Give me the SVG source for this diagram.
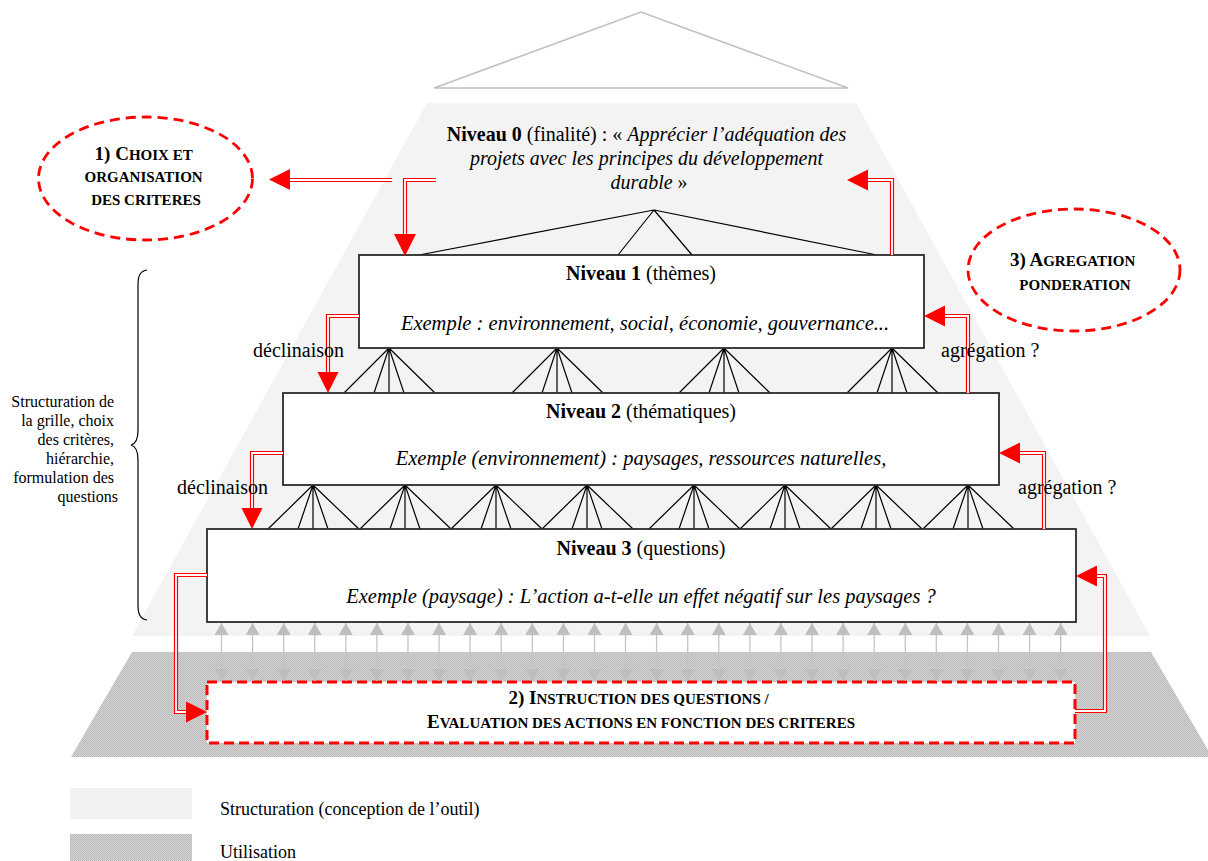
<svg xmlns="http://www.w3.org/2000/svg" width="1208" height="861" viewBox="0 0 1208 861">
<style>
.t{font-family:"Liberation Serif","Times New Roman",serif;font-size:20px;fill:#000}
.s16{font-size:16px}
.s18{font-size:18px}
.ex{font-size:20.5px}
.cap{font-weight:bold;font-size:19px}
.sm{font-size:15px}
.b{font-weight:bold}
.i{font-style:italic}
.box{fill:#fff;stroke:#2b2b2b;stroke-width:1.8}
.fan{stroke:#000;stroke-width:1.2;fill:none}
.red{stroke:#ff0000;stroke-width:4.2;fill:none}
.wht{stroke:#fff;stroke-width:1.8;fill:none}
.ah{fill:#ff0000}
.dash{fill:none;stroke:#ff0000;stroke-width:2.8;stroke-dasharray:10 6}
.gl{stroke:#c4c4c4;stroke-width:1.3;marker-start:url(#ga);marker-end:url(#ga)}
</style>
<defs>
<pattern id="dots" width="2" height="2" patternUnits="userSpaceOnUse">
<rect width="2" height="2" fill="#d4d4d4"/>
<rect width="1" height="1" fill="#bababa"/>
<rect x="1" y="1" width="1" height="1" fill="#bababa"/>
</pattern>
<marker id="ga" viewBox="0 0 12 14" refX="12" refY="7" markerWidth="12" markerHeight="14" markerUnits="userSpaceOnUse" orient="auto-start-reverse">
<path d="M0,0 L12,7 L0,14 z" fill="#bebebe"/>
</marker>
<path id="c1" d="M392,180 H289"/>
<path id="c2" d="M436,180 H405 V235"/>
<path id="c3" d="M892,255 V180 H867"/>
<path id="c4" d="M359,316 H328 V373"/>
<path id="c5" d="M283,453 H252 V509"/>
<path id="c6" d="M968,393 V316 H944"/>
<path id="c7" d="M1044,529 V453 H1019"/>
<path id="c8" d="M1075,711 H1105 V576 H1096"/>
<path id="c9" d="M207,575 H176 V712 H188"/>
</defs>

<g id="background">
<rect width="1208" height="861" fill="#fff"/>
<polygon points="434,88 641,12 848,88" fill="#fff" stroke="#c0c0c0" stroke-width="1.5"/>
<polygon points="427,103 856,103 1150,636 132,636" fill="#f3f3f3"/>
<polygon points="132,652 1151,652 1212,757 71,757" fill="url(#dots)"/>
</g>

<g id="brace">
<path d="M147,270 C140,271 138,276 138,285 V430 C138,440 135,444 131,445 C135,446 138,450 138,460 V605 C138,614 140,619 147,620" fill="none" stroke="#000" stroke-width="1.2"/>
<text class="t s16" text-anchor="end">
<tspan x="118" y="407">Structuration de</tspan>
<tspan x="118" y="426">la grille, choix</tspan>
<tspan x="118" y="445">des critères,</tspan>
<tspan x="118" y="464">hiérarchie,</tspan>
<tspan x="118" y="483">formulation des</tspan>
<tspan x="118" y="502">questions</tspan>
</text>
</g>

<g id="fans">
<path class="fan" d="M654,210 L419,255 M654,210 L618,255 M654,210 L692,255 M654,210 L877,255"/>
<path class="fan" d="M389,348 L344,393 M389,348 L374,393 M389,348 L389,393 M389,348 L404,393 M389,348 L435,393"/>
<path class="fan" d="M557,348 L512,393 M557,348 L542,393 M557,348 L557,393 M557,348 L572,393 M557,348 L603,393"/>
<path class="fan" d="M724,348 L679,393 M724,348 L709,393 M724,348 L724,393 M724,348 L739,393 M724,348 L770,393"/>
<path class="fan" d="M892,348 L847,393 M892,348 L877,393 M892,348 L892,393 M892,348 L907,393 M892,348 L938,393"/>
<path class="fan" d="M313,485 L268,529 M313,485 L298,529 M313,485 L313,529 M313,485 L328,529 M313,485 L359,529"/>
<path class="fan" d="M405,485 L360,529 M405,485 L390,529 M405,485 L405,529 M405,485 L420,529 M405,485 L451,529"/>
<path class="fan" d="M496,485 L451,529 M496,485 L481,529 M496,485 L496,529 M496,485 L511,529 M496,485 L542,529"/>
<path class="fan" d="M587,485 L542,529 M587,485 L572,529 M587,485 L587,529 M587,485 L602,529 M587,485 L633,529"/>
<path class="fan" d="M694,485 L649,529 M694,485 L679,529 M694,485 L694,529 M694,485 L709,529 M694,485 L740,529"/>
<path class="fan" d="M785,485 L740,529 M785,485 L770,529 M785,485 L785,529 M785,485 L800,529 M785,485 L831,529"/>
<path class="fan" d="M876,485 L831,529 M876,485 L861,529 M876,485 L876,529 M876,485 L891,529 M876,485 L922,529"/>
<path class="fan" d="M968,485 L923,529 M968,485 L953,529 M968,485 L968,529 M968,485 L983,529 M968,485 L1014,529"/>
</g>

<g id="niveau0">
<text class="t" text-anchor="middle">
<tspan x="649" y="141"><tspan class="b">Niveau 0</tspan> (finalité) : « <tspan class="i">Apprécier l’adéquation des</tspan></tspan>
<tspan x="649" y="165" class="i">projets avec les principes du développement</tspan>
<tspan x="649" y="189"><tspan class="i">durable</tspan> »</tspan>
</text>
</g>

<g id="niveau1">
<rect class="box" x="359" y="255" width="565" height="93"/>
<text class="t" x="641" y="280" text-anchor="middle"><tspan class="b">Niveau 1</tspan> (thèmes)</text>
<text class="t i ex" x="645" y="330" text-anchor="middle">Exemple : environnement, social, économie, gouvernance...</text>
</g>

<g id="niveau2">
<rect class="box" x="283" y="393" width="716" height="92"/>
<text class="t" x="641" y="418" text-anchor="middle"><tspan class="b">Niveau 2</tspan> (thématiques)</text>
<text class="t i ex" x="641" y="465" text-anchor="middle">Exemple (environnement) : paysages, ressources naturelles,</text>
</g>

<g id="niveau3">
<rect class="box" x="207" y="529" width="869" height="93"/>
<text class="t" x="641" y="555" text-anchor="middle"><tspan class="b">Niveau 3</tspan> (questions)</text>
<text class="t i ex" x="641" y="603" text-anchor="middle">Exemple (paysage) : L’action a-t-elle un effet négatif sur les paysages ?</text>
</g>

<g id="etape1">
<ellipse class="dash" cx="145.5" cy="178.5" rx="107" ry="61.5"/>
<text class="t cap" text-anchor="middle">
<tspan x="146" y="160">1) C<tspan class="sm">HOIX ET</tspan></tspan>
<tspan x="146" y="182" class="sm">ORGANISATION</tspan>
<tspan x="146" y="205" class="sm">DES CRITERES</tspan>
</text>
</g>

<g id="etape3">
<ellipse class="dash" cx="1074" cy="270" rx="106" ry="61"/>
<text class="t cap" text-anchor="middle">
<tspan x="1075" y="266">3) A<tspan class="sm">GREGATION</tspan></tspan>
<tspan x="1075" y="290" class="sm">PONDERATION</tspan>
</text>
</g>

<g id="etape2">
<rect x="207" y="682" width="868" height="61" fill="#fff" stroke="#ff0000" stroke-width="3" stroke-dasharray="10 5"/>
<text class="t cap" text-anchor="middle">
<tspan x="641" y="704">2) I<tspan class="sm">NSTRUCTION DES QUESTIONS /</tspan></tspan>
<tspan x="641" y="728">E<tspan class="sm">VALUATION DES ACTIONS EN FONCTION DES CRITERES</tspan></tspan>
</text>
</g>

<g id="connectors">
<g id="grey-arrows">
<line class="gl" x1="221.5" y1="623" x2="221.5" y2="681"/>
<line class="gl" x1="252.6" y1="623" x2="252.6" y2="681"/>
<line class="gl" x1="283.7" y1="623" x2="283.7" y2="681"/>
<line class="gl" x1="314.7" y1="623" x2="314.7" y2="681"/>
<line class="gl" x1="345.8" y1="623" x2="345.8" y2="681"/>
<line class="gl" x1="376.9" y1="623" x2="376.9" y2="681"/>
<line class="gl" x1="408" y1="623" x2="408" y2="681"/>
<line class="gl" x1="439.1" y1="623" x2="439.1" y2="681"/>
<line class="gl" x1="470.1" y1="623" x2="470.1" y2="681"/>
<line class="gl" x1="501.2" y1="623" x2="501.2" y2="681"/>
<line class="gl" x1="532.3" y1="623" x2="532.3" y2="681"/>
<line class="gl" x1="563.4" y1="623" x2="563.4" y2="681"/>
<line class="gl" x1="594.5" y1="623" x2="594.5" y2="681"/>
<line class="gl" x1="625.5" y1="623" x2="625.5" y2="681"/>
<line class="gl" x1="656.6" y1="623" x2="656.6" y2="681"/>
<line class="gl" x1="687.7" y1="623" x2="687.7" y2="681"/>
<line class="gl" x1="718.8" y1="623" x2="718.8" y2="681"/>
<line class="gl" x1="749.9" y1="623" x2="749.9" y2="681"/>
<line class="gl" x1="780.9" y1="623" x2="780.9" y2="681"/>
<line class="gl" x1="812" y1="623" x2="812" y2="681"/>
<line class="gl" x1="843.1" y1="623" x2="843.1" y2="681"/>
<line class="gl" x1="874.2" y1="623" x2="874.2" y2="681"/>
<line class="gl" x1="905.3" y1="623" x2="905.3" y2="681"/>
<line class="gl" x1="936.3" y1="623" x2="936.3" y2="681"/>
<line class="gl" x1="967.4" y1="623" x2="967.4" y2="681"/>
<line class="gl" x1="998.5" y1="623" x2="998.5" y2="681"/>
<line class="gl" x1="1029.6" y1="623" x2="1029.6" y2="681"/>
<line class="gl" x1="1060.7" y1="623" x2="1060.7" y2="681"/>
</g>
<g id="red-connectors">
<use href="#c1" class="red"/><use href="#c1" class="wht"/>
<use href="#c2" class="red"/><use href="#c2" class="wht"/>
<use href="#c3" class="red"/><use href="#c3" class="wht"/>
<use href="#c4" class="red"/><use href="#c4" class="wht"/>
<use href="#c5" class="red"/><use href="#c5" class="wht"/>
<use href="#c6" class="red"/><use href="#c6" class="wht"/>
<use href="#c7" class="red"/><use href="#c7" class="wht"/>
<use href="#c8" class="red"/><use href="#c8" class="wht"/>
<use href="#c9" class="red"/><use href="#c9" class="wht"/>
<polygon class="ah" points="269,179.5 290,169 290,190"/>
<polygon class="ah" points="405,256 394,234 416,234"/>
<polygon class="ah" points="847,180 868,169.5 868,190.5"/>
<polygon class="ah" points="328,393 317.5,372 338.5,372"/>
<polygon class="ah" points="252,529 241.5,508 262.5,508"/>
<polygon class="ah" points="924,316 945,305.5 945,326.5"/>
<polygon class="ah" points="999,453 1020,442.5 1020,463.5"/>
<polygon class="ah" points="1076,576 1097,565.5 1097,586.5"/>
<polygon class="ah" points="207,712 186,701.5 186,722.5"/>
</g>
<text class="t" x="253" y="357">déclinaison</text>
<text class="t" x="177" y="494">déclinaison</text>
<text class="t" x="941" y="357">agrégation ?</text>
<text class="t" x="1018" y="494">agrégation ?</text>
</g>

<g id="legend">
<rect x="70" y="788" width="122" height="31" fill="#f2f2f2"/>
<rect x="70" y="834" width="122" height="27" fill="url(#dots)"/>
<text class="t s18" x="220" y="815">Structuration (conception de l’outil)</text>
<text class="t s18" x="220" y="858">Utilisation</text>
</g>
</svg>
